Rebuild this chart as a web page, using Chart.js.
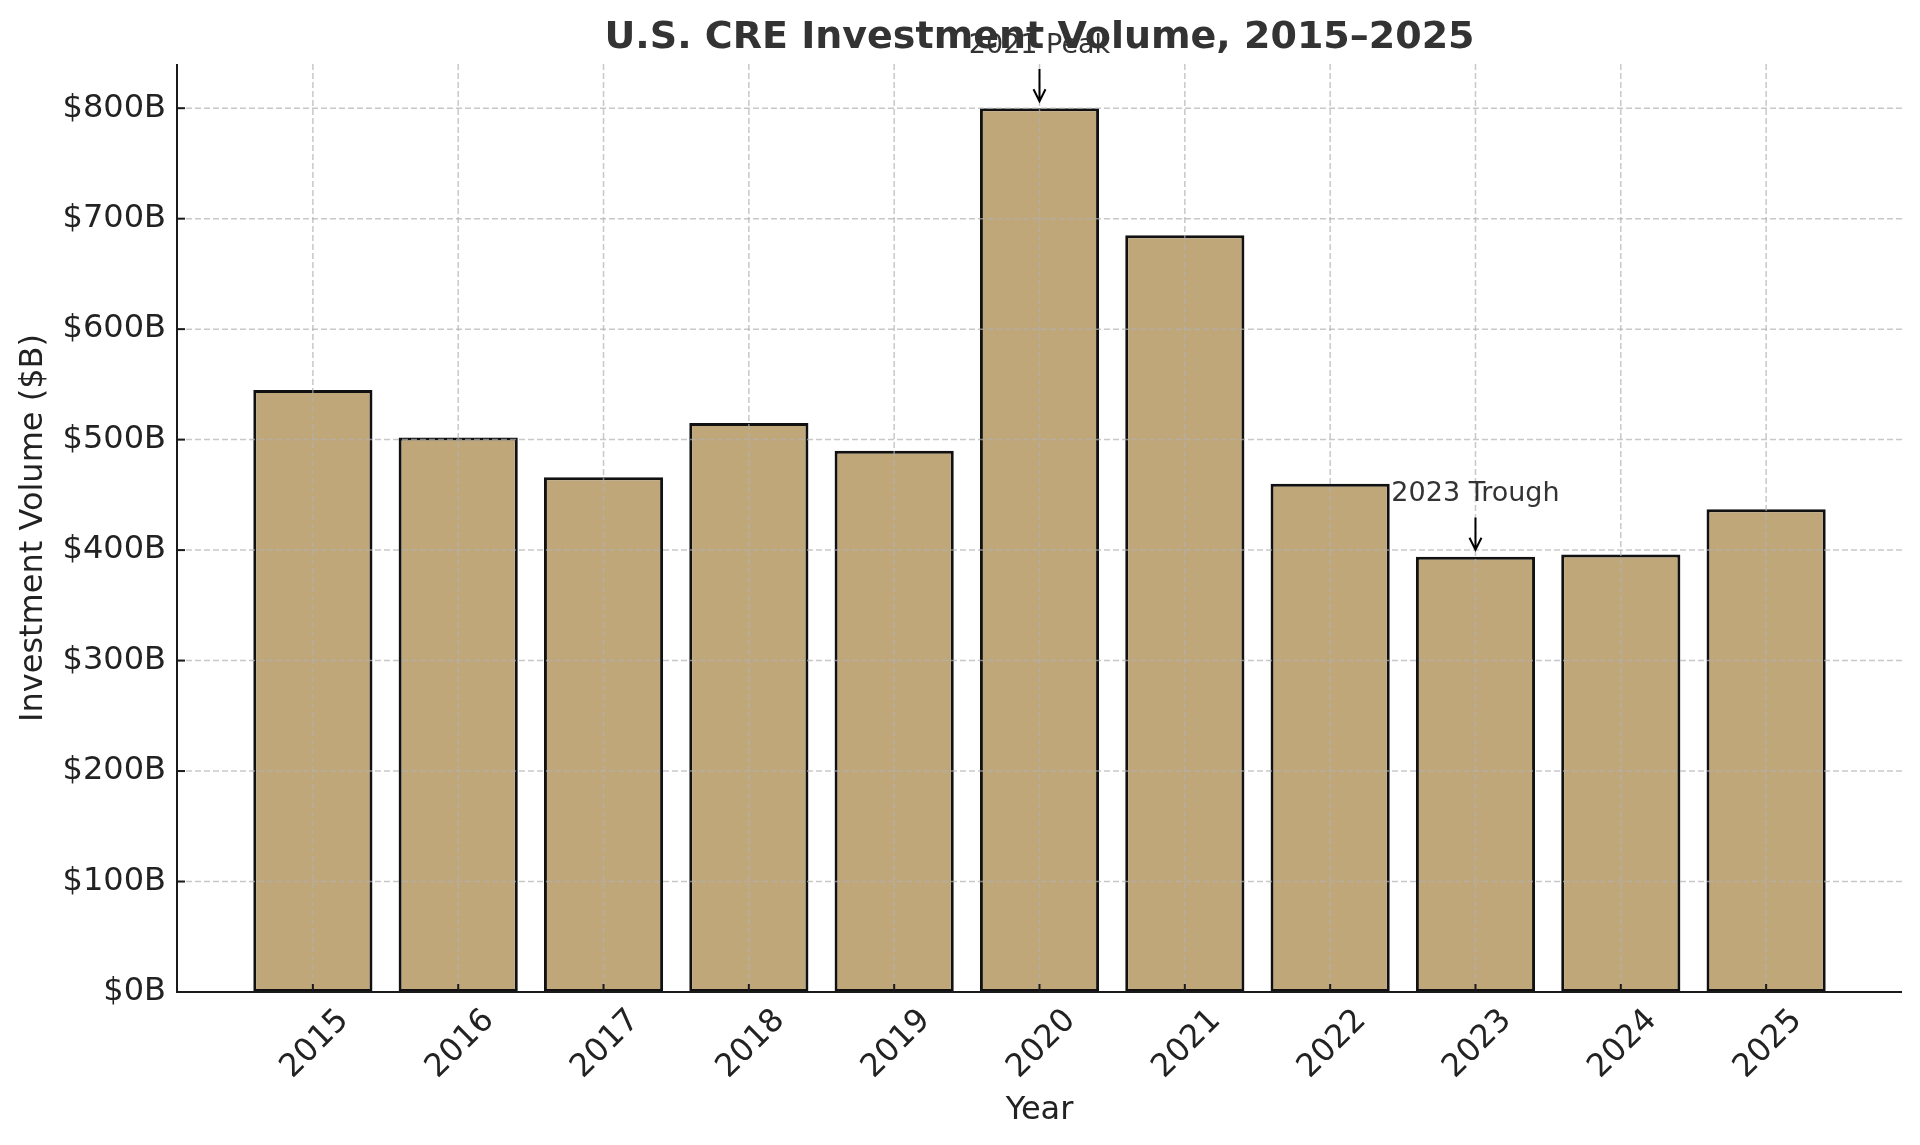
<!DOCTYPE html>
<html>
<head>
<meta charset="utf-8">
<title>U.S. CRE Investment Volume</title>
<script src="https://cdn.jsdelivr.net/npm/chart.js@4.4.1/dist/chart.umd.min.js"></script>
<style>
    html, body { margin: 0; padding: 0; background: #fff; }
    #chart { display: block; }
</style>
</head>
<body>
<canvas id="chart" width="1920" height="1145"></canvas>
<script>
// Data
const years = ['2015', '2016', '2017', '2018', '2019', '2020', '2021', '2022', '2023', '2024', '2025'];
const volumes = [545, 502, 466, 515, 490, 800, 685, 460, 394, 396, 437];
const yTicks = [0, 100, 200, 300, 400, 500, 600, 700, 800];

// Annotated bars (index into years) and their labels
const noteIndex = [5, 8];
const noteText = ['2021 Peak', '2023 Trough'];

const FONT = '"DejaVu Sans", sans-serif';

// Draws grid over the bars, spines, inward ticks, titles and the arrows
const overlayPlugin = {
    id: 'overlay',
    afterDatasetsDraw(chart) {
        const ctx = chart.ctx;
        const area = chart.chartArea;
        const xs = chart.scales.x;
        const ys = chart.scales.y;

        ctx.save();

        // dashed grid, drawn on top of the bars like the original
        ctx.strokeStyle = 'rgba(176, 176, 176, 0.7)';
        ctx.lineWidth = 1.5;
        ctx.setLineDash([6, 3]);
        years.forEach((y, i) => {
            const px = xs.getPixelForValue(i);
            ctx.beginPath();
            ctx.moveTo(px, area.top);
            ctx.lineTo(px, area.bottom);
            ctx.stroke();
        });
        yTicks.forEach(v => {
            const py = ys.getPixelForValue(v);
            ctx.beginPath();
            ctx.moveTo(area.left, py);
            ctx.lineTo(area.right, py);
            ctx.stroke();
        });
        ctx.setLineDash([]);

        // left and bottom spines
        ctx.strokeStyle = '#1a1a1a';
        ctx.lineWidth = 2;
        ctx.beginPath();
        ctx.moveTo(area.left, area.top);
        ctx.lineTo(area.left, area.bottom);
        ctx.lineTo(area.right, area.bottom);
        ctx.stroke();

        // ticks pointing inward
        years.forEach((y, i) => {
            const px = xs.getPixelForValue(i);
            ctx.beginPath();
            ctx.moveTo(px, area.bottom);
            ctx.lineTo(px, area.bottom - 8);
            ctx.stroke();
        });
        yTicks.forEach(v => {
            const py = ys.getPixelForValue(v);
            ctx.beginPath();
            ctx.moveTo(area.left, py);
            ctx.lineTo(area.left + 8, py);
            ctx.stroke();
        });

        // annotations with arrows
        noteIndex.forEach((idx, k) => {
            const px = xs.getPixelForValue(idx);
            const barTop = ys.getPixelForValue(volumes[idx]);
            const baseline = ys.getPixelForValue(volumes[idx] + 50);

            ctx.fillStyle = '#333';
            ctx.font = '27px ' + FONT;
            ctx.textAlign = 'center';
            ctx.textBaseline = 'alphabetic';
            ctx.fillText(noteText[k], px, baseline);

            const y0 = baseline + 16;
            const y1 = barTop - 7;
            ctx.strokeStyle = '#000';
            ctx.lineWidth = 2;
            ctx.beginPath();
            ctx.moveTo(px, y0);
            ctx.lineTo(px, y1);
            ctx.moveTo(px - 6, y1 - 12);
            ctx.lineTo(px, y1);
            ctx.lineTo(px + 6, y1 - 12);
            ctx.stroke();
        });

        ctx.restore();
    },
    afterDraw(chart) {
        const ctx = chart.ctx;
        const area = chart.chartArea;
        const cx = (area.left + area.right) / 2;

        ctx.save();
        ctx.fillStyle = '#333';
        ctx.font = 'bold 38px ' + FONT;
        ctx.textAlign = 'center';
        ctx.textBaseline = 'alphabetic';
        ctx.fillText('U.S. CRE Investment Volume, 2015\u20132025', cx, 48);

        ctx.fillStyle = '#222';
        ctx.font = '32px ' + FONT;
        ctx.fillText('Year', cx, 1119);

        ctx.translate(34, (area.top + area.bottom) / 2);
        ctx.rotate(-Math.PI / 2);
        ctx.textBaseline = 'middle';
        ctx.fillText('Investment Volume ($B)', 0, 0);
        ctx.restore();
    }
};

const ctx = document.getElementById('chart').getContext('2d');
new Chart(ctx, {
    type: 'bar',
    data: {
        datasets: [{
            label: 'Investment Volume',
            data: volumes.map((v, i) => ({ x: i, y: v })),
            backgroundColor: '#C0A77A',
            borderColor: '#111',
            borderWidth: 3,
            borderSkipped: false,
            barPercentage: 0.82,
            categoryPercentage: 1
        }]
    },
    options: {
        responsive: false,
        devicePixelRatio: 1,
        animation: false,
        layout: {
            padding: { top: 64, right: 18, left: 0, bottom: 0 }
        },
        plugins: {
            legend: { display: false },
            title: { display: false },
            tooltip: { enabled: false }
        },
        scales: {
            x: {
                type: 'linear',
                offset: false,
                min: -0.935,
                max: 10.935,
                grid: { display: false },
                border: { display: false },
                ticks: {
                    stepSize: 1,
                    includeBounds: false,
                    autoSkip: false,
                    minRotation: 45,
                    maxRotation: 45,
                    padding: 2,
                    labelOffset: 31,
                    color: '#222',
                    font: { family: FONT, size: 32 },
                    callback: v => Number.isInteger(v) ? (years[v] || '') : ''
                },
                afterFit(scale) { scale.height = 153; }
            },
            y: {
                min: 0,
                max: 840,
                grid: { display: false },
                border: { display: false },
                ticks: {
                    stepSize: 100,
                    includeBounds: false,
                    padding: 3,
                    color: '#222',
                    font: { family: FONT, size: 32 },
                    callback: v => '$' + v + 'B'
                },
                afterFit(scale) { scale.width = 177; }
            }
        }
    },
    plugins: [overlayPlugin]
});
</script>
</body>
</html>
